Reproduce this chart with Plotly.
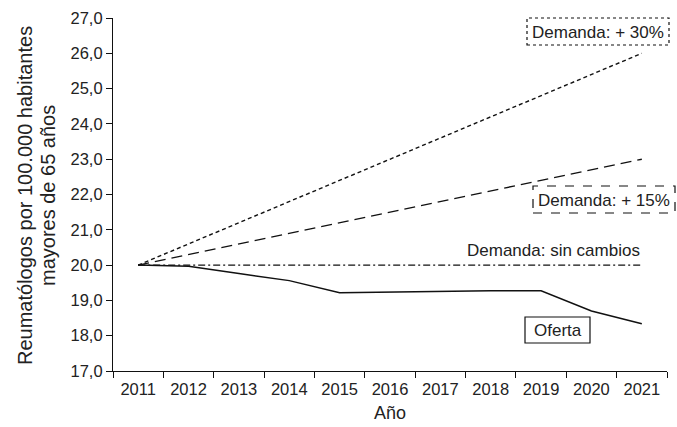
import plotly.graph_objects as go

years = ["2011", "2012", "2013", "2014", "2015", "2016", "2017", "2018", "2019", "2020", "2021"]
demanda_30 = [20.0, 20.6, 21.2, 21.8, 22.4, 23.0, 23.6, 24.2, 24.8, 25.4, 26.0]
demanda_15 = [20.0, 20.3, 20.6, 20.9, 21.2, 21.5, 21.8, 22.1, 22.4, 22.7, 23.0]
demanda_sin = [20.0, 20.0, 20.0, 20.0, 20.0, 20.0, 20.0, 20.0, 20.0, 20.0, 20.0]
oferta = [20.0, 19.97, 19.76, 19.56, 19.22, 19.24, 19.26, 19.27, 19.27, 18.70, 18.34]

FONT = "Liberation Sans, Arial, sans-serif"
TXT = "#222222"

fig = go.Figure()
fig.add_trace(go.Scatter(x=years, y=demanda_30, mode="lines",
                         line=dict(color="#111111", width=1.4, dash="4px,3px")))
fig.add_trace(go.Scatter(x=years, y=demanda_15, mode="lines",
                         line=dict(color="#111111", width=1.4, dash="11px,6px")))
fig.add_trace(go.Scatter(x=years, y=demanda_sin, mode="lines",
                         line=dict(color="#111111", width=1.4, dash="7px,3px,2px,3px")))
fig.add_trace(go.Scatter(x=years, y=oferta, mode="lines",
                         line=dict(color="#111111", width=1.5)))

L, R, T, B = 113, 10, 18, 56
W, H = 677, 427
PW, PH = W - L - R, H - T - B


def px(x):
    return (x - L) / PW


def py(y):
    return (H - B - y) / PH


def box(x0, y0, x1, y1, dash):
    fig.add_shape(type="rect", xref="paper", yref="paper",
                  x0=px(x0), x1=px(x1), y0=py(y1), y1=py(y0),
                  line=dict(color="#111111", width=1.2, dash=dash),
                  fillcolor="white", layer="above")


def label(x, y, text, angle=0, size=17):
    fig.add_annotation(xref="paper", yref="paper", x=px(x), y=py(y), text=text,
                       showarrow=False, xanchor="center", yanchor="middle",
                       textangle=angle,
                       font=dict(family=FONT, size=size, color=TXT))


box(527, 18, 669, 45, "dot")
label(598, 32, "Demanda: + 30%")
box(533, 186, 675, 213, "dash")
label(604, 200, "Demanda: + 15%")
label(553, 250, "Demanda: sin cambios")
box(525, 317, 590, 343, "solid")
label(557.5, 330, "Oferta")

# axis titles
label(25, 196, "Reumatólogos por 100.000 habitantes", angle=-90, size=20)
label(48, 196, "mayores de 65 años", angle=-90, size=20)
label(390, 413, "Año", size=18)

fig.update_layout(
    width=W, height=H,
    margin=dict(l=L, r=R, t=T, b=B),
    plot_bgcolor="white", paper_bgcolor="white",
    showlegend=False,
    separators=",.",
    font=dict(family=FONT, size=16, color=TXT),
    xaxis=dict(type="category", tickson="boundaries", ticks="outside", ticklen=6,
               tickcolor="#111111", showline=True, linecolor="#111111", linewidth=1.2,
               showgrid=False, zeroline=False, automargin=False,
               ticklabelstandoff=3,
               tickfont=dict(size=16.5), range=[-0.5, 10.5]),
    yaxis=dict(range=[17, 27], dtick=1, tickformat=".1f", ticks="outside", ticklen=6,
               tickcolor="#111111", showline=True, linecolor="#111111", linewidth=1.2,
               showgrid=False, zeroline=False, automargin=False,
               tickfont=dict(size=16.5)),
)

fig.write_html("out.html", config={"displayModeBar": False},
               post_script="document.body.style.margin='0';")
